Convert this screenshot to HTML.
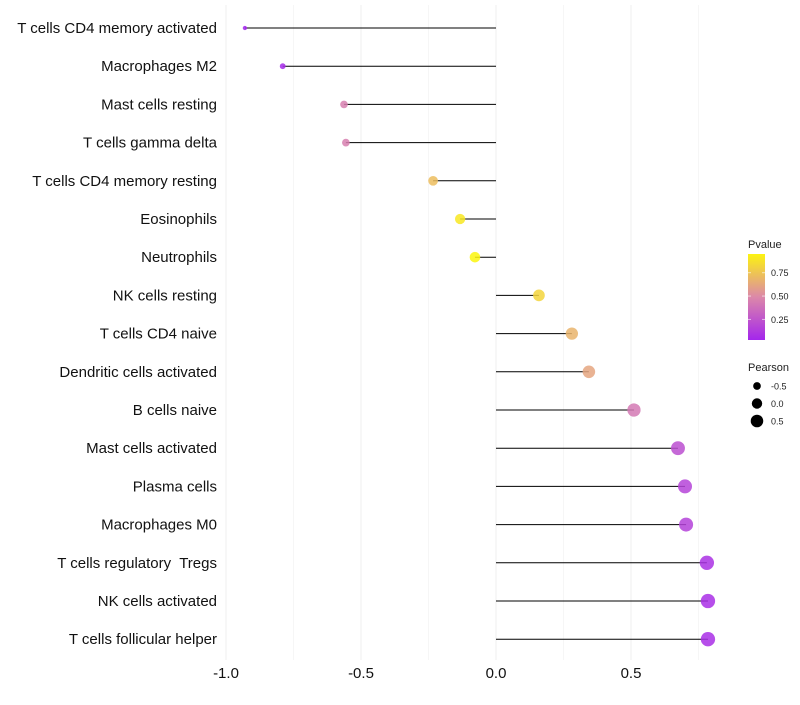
<!DOCTYPE html>
<html><head><meta charset="utf-8"><style>body{margin:0;background:#fff}svg{font-family:"Liberation Sans",sans-serif}text{white-space:pre}</style></head>
<body>
<svg id="c" width="800" height="700"></svg>
<script>
const categories=["T cells CD4 memory activated","Macrophages M2","Mast cells resting","T cells gamma delta","T cells CD4 memory resting","Eosinophils","Neutrophils","NK cells resting","T cells CD4 naive","Dendritic cells activated","B cells naive","Mast cells activated","Plasma cells","Macrophages M0","T cells regulatory  Tregs","NK cells activated","T cells follicular helper"];
const pearson=[-0.93,-0.79,-0.563,-0.556,-0.233,-0.133,-0.078,0.159,0.281,0.344,0.511,0.674,0.7,0.704,0.781,0.785,0.785];
const pvalue=[0.02,0.05,0.45,0.45,0.72,0.9,0.96,0.82,0.68,0.62,0.42,0.22,0.17,0.16,0.08,0.07,0.07];
const xTicks=[-1,-0.5,0,0.5];
const pTicks=[0.25,0.5,0.75];
const sizeTicks=[-0.5,0,0.5];
const NS="http://www.w3.org/2000/svg";
const svg=document.getElementById('c');
const X=v=>496+v*270;
const Y=i=>28+i*38.2;
const R=v=>Math.sqrt(Math.max(2,30+27.3*v));
function lerp(a,b,t){return a.map((x,i)=>Math.round(x+(b[i]-x)*t));}
function col(p){const c0=[160,32,240],c1=[221,138,168],c2=[255,255,0];const c=p<0.5?lerp(c0,c1,p/0.5):lerp(c1,c2,(p-0.5)/0.5);return `rgb(${c})`;}
function el(t,a,p){const e=document.createElementNS(NS,t);for(const k in a)e.setAttribute(k,a[k]);(p||svg).appendChild(e);return e;}
for(let v=-1;v<=0.76;v+=0.25){const g=el('line',{x1:X(v),x2:X(v),y1:5,y2:660,stroke:Math.abs(v*2%1)<1e-9?'#efefef':'#f6f6f6','stroke-width':1});
}
xTicks.forEach(v=>{const t=el('text',{x:X(v),y:678,'text-anchor':'middle','font-size':15,fill:'#111'});t.textContent=v.toFixed(1);
});
categories.forEach((c,i)=>{
const t=el('text',{x:217,y:Y(i)+5,'text-anchor':'end','font-size':15,fill:'#111'});t.textContent=c;

const l=el('line',{x1:X(0),x2:X(pearson[i]),y1:Y(i),y2:Y(i),stroke:'#000','stroke-width':1});

const d=el('circle',{cx:X(pearson[i]),cy:Y(i),r:R(pearson[i]),fill:col(pvalue[i]),'fill-opacity':0.85});

});
const lt=el('text',{x:748,y:248,'font-size':11,fill:'#222'});lt.textContent='Pvalue';

const defs=el('defs',{});const gr=el('linearGradient',{id:'g',x1:0,y1:1,x2:0,y2:0},defs);
[[0,0.03],[0.5,0.49],[1,0.95]].forEach(([o,p])=>el('stop',{offset:o,'stop-color':col(p)},gr));
const bar=el('rect',{x:748,y:254,width:17,height:86,fill:'url(#g)'});

const PY=p=>340-(p-0.03)/(0.92)*86;
pTicks.forEach(p=>{el('line',{x1:748,x2:751,y1:PY(p),y2:PY(p),stroke:'#fff','stroke-opacity':0.6});el('line',{x1:762,x2:765,y1:PY(p),y2:PY(p),stroke:'#fff','stroke-opacity':0.6});
const t=el('text',{x:771,y:PY(p)+3.5,'font-size':9,fill:'#222'});t.textContent=p.toFixed(2);
});
const st=el('text',{x:748,y:371,'font-size':11,fill:'#222'});st.textContent='Pearson';

sizeTicks.forEach((v,i)=>{const y=386+i*17.5;const c=el('circle',{cx:757,cy:y,r:R(v)*0.95,fill:'#000'});

const t=el('text',{x:771,y:y+3.5,'font-size':9,fill:'#222'});t.textContent=v.toFixed(1);
});
</script>
</body></html>
